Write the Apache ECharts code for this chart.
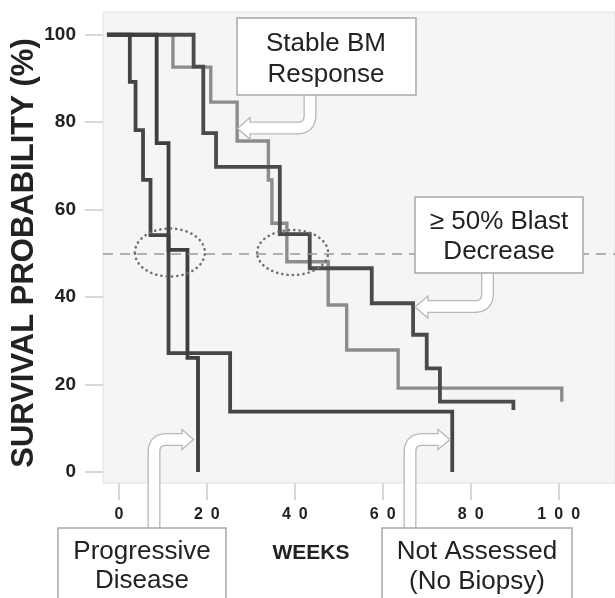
<!DOCTYPE html>
<html>
<head>
<meta charset="utf-8">
<script src="https://cdn.jsdelivr.net/npm/echarts@6/dist/echarts.min.js"></script>
<style>
html,body{margin:0;padding:0;background:#fff;}
#c{width:615px;height:598px;}
</style>
</head>
<body>
<div id="c"></div>
<script>
// ---- data ----
const tickWeeks = [0, 20, 40, 60, 80, 100];
const tickSurv = [0, 20, 40, 60, 80, 100];
const blastLine = 50;

// Not Assessed (No Biopsy)
const naWeeks = [-2.7, 2.5, 3.8, 5.5, 7.2, 11.3, 25.3, 75.8];
const naSurv  = [100, 89.2, 78.2, 66.8, 54.2, 27.2, 13.8, 0];
// Progressive Disease
const pdWeeks = [-2.7, 8.6, 11.3, 15.6, 18.0];
const pdSurv  = [100, 75.2, 50.8, 26.1, 0];
// Stable BM Response
const sbWeeks = [-2.7, 12.3, 20.9, 26.9, 34.0, 34.8, 38.2, 47.6, 51.8, 63.5, 100.7];
const sbSurv  = [100, 92.6, 84.6, 75.7, 66.8, 56.9, 48.1, 38.2, 27.9, 19.2, 16.1];
// >= 50% Blast Decrease
const bdWeeks = [-2.7, 17.0, 19.2, 22.1, 36.6, 43.4, 57.5, 66.9, 70.0, 73.0, 89.7];
const bdSurv  = [100, 92.7, 77.5, 69.8, 54.4, 46.6, 38.6, 31.4, 23.7, 16.1, 14.2];

// dotted circles (data coords of centres)
const circleCentres = [[11.6, 50.2], [39.5, 50.2]];

const FONT = '"Liberation Sans", Arial, sans-serif';
const zip = (xs, ys) => xs.map((x, i) => [x, ys[i]]);

const chart = echarts.init(document.getElementById('c'), null, {renderer: 'canvas'});

function stepSeries(name, xs, ys, color, width, extra) {
  return Object.assign({
    name: name,
    type: 'line',
    step: 'end',
    symbol: 'none',
    data: zip(xs, ys),
    lineStyle: {color: color, width: width, cap: 'butt', join: 'miter'},
    z: 3
  }, extra || {});
}

chart.setOption({
  animation: false,
  backgroundColor: '#ffffff',
  grid: {
    left: 103, right: 0, top: 12, bottom: 115,
    containLabel: false, outerBoundsMode: 'none',
    show: true, backgroundColor: '#f5f5f5', borderColor: '#e0e0e0', borderWidth: 1
  },
  xAxis: {
    type: 'value', min: -3.6, max: 112.8,
    axisLine: {show: false, onZero: false},
    splitLine: {show: false},
    axisTick: {show: true, length: 17, customValues: tickWeeks, lineStyle: {color: '#cccccc', width: 1.5}},
    axisLabel: {
      show: true, customValues: tickWeeks, margin: 24,
      fontFamily: FONT, fontSize: 16, fontWeight: 'bold', color: '#222',
      formatter: v => String(v).split('').join('\u2002')
    }
  },
  yAxis: {
    type: 'value', min: -2.5, max: 105.2,
    axisLine: {show: false, onZero: false},
    splitLine: {show: false},
    axisTick: {show: true, length: 18, customValues: tickSurv, lineStyle: {color: '#cccccc', width: 1.5}},
    axisLabel: {
      show: true, customValues: tickSurv, margin: 27,
      fontFamily: FONT, fontSize: 19, fontWeight: 'bold', color: '#222'
    }
  },
  series: [
    stepSeries('Stable BM Response', sbWeeks, sbSurv, '#8c8c8c', 3.4, {
      markLine: {
        silent: true, symbol: 'none', label: {show: false},
        lineStyle: {color: '#9a9a9a', width: 1.5, type: [10, 7]},
        data: [{yAxis: blastLine}]
      }
    }),
    stepSeries('>= 50% Blast Decrease', bdWeeks, bdSurv, '#4a4a4a', 3.8),
    stepSeries('Not Assessed', naWeeks, naSurv, '#454545', 3.8),
    stepSeries('Progressive Disease', pdWeeks, pdSurv, '#3e3e3e', 3.8)
  ]
});

// ---- annotations ----
const ARROW_GRAY = '#b8b8b8';
// build an L-shaped shaft with a rounded corner: start -> corner (quadratic) -> end
function shaftPoints(start, corner, end, r) {
  const pts = [];
  const dx1 = Math.sign(corner[0] - start[0]), dy1 = Math.sign(corner[1] - start[1]);
  const dx2 = Math.sign(end[0] - corner[0]), dy2 = Math.sign(end[1] - corner[1]);
  const a = [corner[0] - dx1 * r, corner[1] - dy1 * r];
  const b = [corner[0] + dx2 * r, corner[1] + dy2 * r];
  pts.push(start);
  for (let i = 0; i <= 12; i++) {
    const t = i / 12, u = 1 - t;
    pts.push([u * u * a[0] + 2 * u * t * corner[0] + t * t * b[0],
              u * u * a[1] + 2 * u * t * corner[1] + t * t * b[1]]);
  }
  pts.push(end);
  return pts;
}
function arrow(start, corner, end, head, r) {
  const outer = shaftPoints(start, corner, end, r);
  const dx = Math.sign(end[0] - corner[0]);
  const dy0 = Math.sign(corner[1] - start[1]);
  const innerEnd = [end[0] + dx * 3, end[1]];
  const innerStart = [start[0], start[1] - dy0 * 1];
  const inner = shaftPoints(innerStart, corner, innerEnd, r);
  return [
    {type: 'polyline', z: 20, shape: {points: outer}, style: {stroke: ARROW_GRAY, lineWidth: 13, fill: null, lineJoin: 'round'}},
    {type: 'polygon', z: 21, shape: {points: head}, style: {fill: '#ffffff', stroke: ARROW_GRAY, lineWidth: 1.3}},
    {type: 'polyline', z: 22, shape: {points: inner}, style: {stroke: '#ffffff', lineWidth: 10.4, fill: null, lineJoin: 'round'}}
  ];
}
function box(x, y, w, h) {
  return {type: 'rect', z: 30, shape: {x: x, y: y, width: w, height: h},
    style: {fill: '#ffffff', stroke: '#a8a8a8', lineWidth: 1.5}};
}
function label(x, y, text, size, weight) {
  return {type: 'text', z: 31, x: x, y: y,
    style: {text: text, font: (weight || 'normal') + ' ' + size + 'px ' + FONT,
      fill: '#222222', align: 'center', verticalAlign: 'middle'}};
}

const g = [];
// dotted circles
circleCentres.forEach((c, i) => {
  const p = chart.convertToPixel({gridIndex: 0}, c);
  g.push({type: 'ellipse', z: 15, shape: {cx: p[0], cy: p[1], rx: i === 0 ? 35 : 35.5, ry: i === 0 ? 24 : 22.5},
    style: {fill: null, stroke: '#6e6e6e', lineWidth: 2.6, lineDash: [0.1, 5.2], lineCap: 'round'}});
});

// arrows
g.push(...arrow([310, 95], [310, 128], [250, 128], [[250, 117.5], [237.5, 128.5], [250, 139]], 13));
g.push(...arrow([487.5, 273], [487.5, 306.5], [428, 306.5], [[428, 296], [415, 307], [428, 318]], 13));
g.push(...arrow([154, 529], [154, 439.5], [182, 439.5], [[182, 429.5], [193.5, 439.5], [182, 449.5]], 12.5));
g.push(...arrow([410, 529], [410, 439.5], [438, 439.5], [[438, 429.5], [450, 439.5], [438, 449.5]], 12.5));

// boxes
g.push(box(237, 18, 179, 77));
g.push(label(326, 44, 'Stable BM', 26));
g.push(label(326, 75, 'Response', 26));

g.push(box(415, 197, 168, 76));
g.push(label(499, 222, '\u2265 50% Blast', 26));
g.push(label(499, 252, 'Decrease', 26));

g.push(box(58, 528, 168, 90));
g.push(label(142, 552, 'Progressive', 26));
g.push(label(142, 581, 'Disease', 26));

g.push(box(382, 528, 190, 90));
g.push(label(477, 552, 'Not Assessed', 26));
g.push(label(477, 582, '(No Biopsy)', 26));

// axis titles
g.push(label(311, 553, 'WEEKS', 21, 'bold'));
g.push({type: 'text', z: 31, x: 24, y: 253, rotation: Math.PI / 2,
  style: {text: 'SURVIVAL PROBABILITY (%)', font: 'bold 31px ' + FONT, fill: '#222222',
    align: 'center', verticalAlign: 'middle'}});

chart.setOption({graphic: {elements: g}});
</script>
</body>
</html>
